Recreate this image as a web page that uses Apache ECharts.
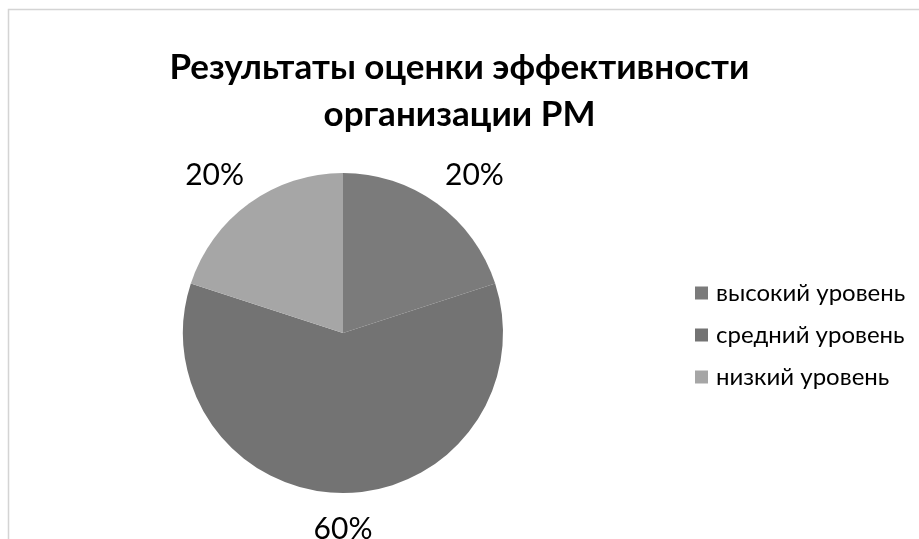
<!DOCTYPE html>
<html>
<head>
<meta charset="utf-8">
<script src="https://cdn.jsdelivr.net/npm/echarts@6/dist/echarts.min.js"></script>
<style>
html,body{margin:0;padding:0;background:#fff;}
#chart{width:919px;height:539px;}
</style>
</head>
<body>
<div id="chart"></div>
<script>
const titleText = 'Результаты оценки эффективности\nорганизации РМ';
const categories = ['высокий уровень', 'средний уровень', 'низкий уровень'];
const values = [20, 60, 20];
const colors = ['#7b7b7b', '#737373', '#a6a6a6'];

const chart = echarts.init(document.getElementById('chart'), null, {renderer: 'canvas'});
chart.setOption({
  animation: false,
  backgroundColor: '#ffffff',
  graphic: [{
    type: 'rect',
    z: -10,
    shape: {x: 8.5, y: 9.5, width: 1000, height: 1000},
    style: {fill: 'none', stroke: '#d4d4d4', lineWidth: 1.5}
  }],
  title: {
    text: titleText,
    left: 'center',
    top: 39,
    textStyle: {
      fontFamily: 'Lato',
      fontWeight: 'bold',
      fontSize: 35,
      lineHeight: 47,
      color: '#000000'
    }
  },
  legend: {
    orient: 'vertical',
    left: 690,
    top: 276,
    itemWidth: 13,
    itemHeight: 13,
    itemGap: 18,
    icon: 'rect',
    data: categories,
    textStyle: {fontFamily: 'Lato', fontSize: 24, color: '#000000', padding: [0, 0, 0, 3]}
  },
  series: [{
    type: 'pie',
    center: [343, 333],
    radius: 160,
    startAngle: 90,
    clockwise: true,
    color: colors,
    label: {
      show: true,
      position: 'outside',
      formatter: '{d}%',
      fontFamily: 'Lato',
      fontSize: 30,
      color: '#000000',
      distanceToLabelLine: 0
    },
    labelLine: {show: false, length: 22, length2: 0},
    labelLayout: function (p) {
      if (p.dataIndex === 1) {
        return {align: 'center', dy: 14};
      }
      return {dx: p.align === 'left' ? -5 : 8, dy: -10};
    },
    data: categories.map((c, i) => ({name: c, value: values[i]}))
  }]
});
</script>
</body>
</html>
